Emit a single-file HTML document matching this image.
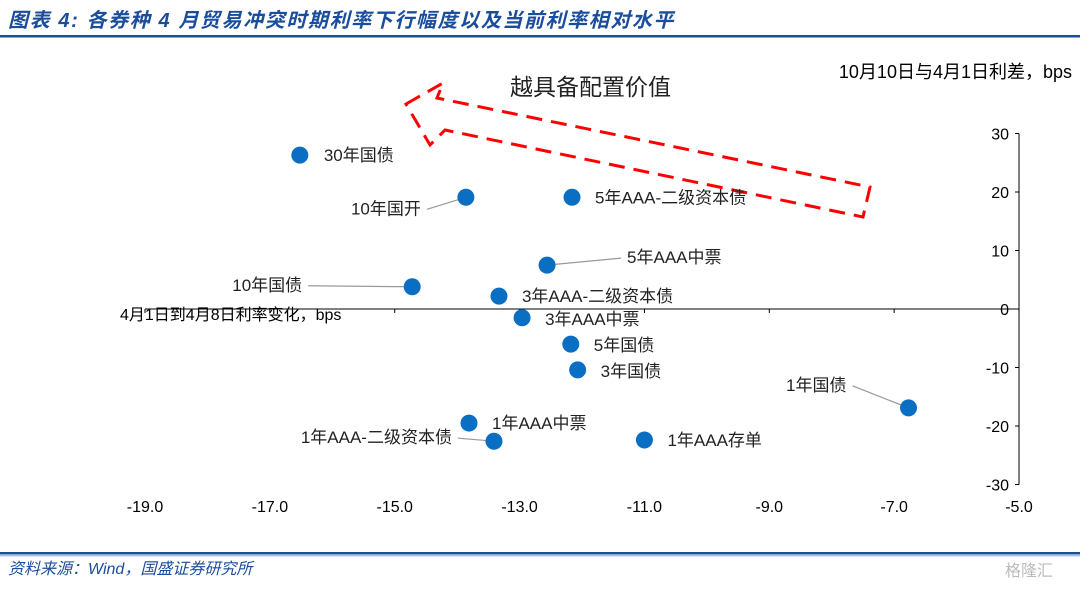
<!DOCTYPE html>
<html><head><meta charset="utf-8">
<style>
body{margin:0;width:1080px;height:584px;background:#fff;overflow:hidden;font-family:"Liberation Sans","Noto Sans CJK SC",sans-serif;}
svg text{font-family:"Liberation Sans","Noto Sans CJK SC",sans-serif;}
</style></head><body>
<svg width="1080" height="584">
<text x="8" y="27" font-size="20" font-style="italic" font-weight="bold" fill="#1a4d9c" letter-spacing="1.6">图表 4:  各券种 4 月贸易冲突时期利率下行幅度以及当前利率相对水平</text>
<rect x="0" y="35" width="1080" height="2.5" fill="#1a4d9c"/>
<rect x="0" y="552" width="1080" height="2.5" fill="#1a4d9c"/>
<rect x="0" y="555" width="1080" height="1.5" fill="#a9c4e8"/>
<text x="8" y="574" font-size="16" font-style="italic" fill="#1a4d9c">资料来源：Wind，国盛证券研究所</text>
<text x="1005" y="576" font-size="16" fill="#bbb">格隆汇</text>
<text x="510" y="95" font-size="23" fill="#222">越具备配置价值</text>
<polygon points="406,104 443,83 437,98 870,187 863,217 445,130 430,145" fill="none" stroke="#f00" stroke-width="3" stroke-dasharray="16,9"/>
<text x="1072" y="78" font-size="18" text-anchor="end" fill="#000">10月10日与4月1日利差，bps</text>
<text x="120" y="320" font-size="16" fill="#000">4月1日到4月8日利率变化，bps</text>
<g id="axes"></g>
<g id="marks"></g>
</svg>
<script>
const names=["30年国债","10年国开","5年AAA-二级资本债","5年AAA中票","10年国债","3年AAA-二级资本债","3年AAA中票","5年国债","3年国债","1年国债","1年AAA中票","1年AAA-二级资本债","1年AAA存单"];
const xVals=[-16.52,-13.86,-12.16,-12.56,-14.72,-13.33,-12.96,-12.18,-12.07,-6.77,-13.81,-13.41,-11.0];
const yVals=[26.3,19.1,19.1,7.5,3.8,2.2,-1.5,-6.0,-10.4,-16.9,-19.5,-22.6,-22.4];
const xTicks=[-19,-17,-15,-13,-11,-9,-7,-5];
const yTicks=[30,20,10,0,-10,-20,-30];
const lab=[[24,6,"start",0],[-45,17,"end",1],[23,6,"start",0],[80,-2,"start",1],[-110,4,"end",1],[23,6,"start",0],[23,7,"start",0],[23,7,"start",0],[23,7,"start",0],[-62,-17,"end",1],[23,6,"start",0],[-42,2,"end",1],[23,6,"start",0]];
const X=v=>145+(v+19)*62.43, Y=v=>309-v*5.85;
const NS="http://www.w3.org/2000/svg";
function mk(t,a,p){const e=document.createElementNS(NS,t);for(const k in a)e.setAttribute(k,a[k]);p.appendChild(e);return e;}
const ax=document.getElementById('axes'), mg=document.getElementById('marks');
const xl=mk('line',{x1:X(-19),x2:X(-5),y1:Y(0),y2:Y(0),stroke:'#000','stroke-width':1},ax);


const yl=mk('line',{x1:X(-5),x2:X(-5),y1:Y(30),y2:Y(-30),stroke:'#000','stroke-width':1},ax);


xTicks.forEach(t=>{const e=mk('text',{x:X(t),y:512,'font-size':16,'text-anchor':'middle',fill:'#000'},ax);e.textContent=t.toFixed(1);


const m=mk('line',{x1:X(t),x2:X(t),y1:Y(0),y2:Y(0)+4,stroke:'#000'},ax);

});
yTicks.forEach(t=>{const e=mk('text',{x:X(-5)-10,y:Y(t)+6,'font-size':16,'text-anchor':'end',fill:'#000'},ax);e.textContent=t;


const m=mk('line',{x1:X(-5)-4,x2:X(-5),y1:Y(t),y2:Y(t),stroke:'#000'},ax);

});
names.forEach((n,i)=>{const cx=X(xVals[i]),cy=Y(yVals[i]);const L=lab[i];
if(L[3]){const ln=mk('line',{x1:cx+L[0]+(L[2]=="end"?6:-6),y1:cy+L[1]-5,x2:cx,y2:cy,stroke:'#999','stroke-width':1.2},mg);

}
const c=mk('circle',{cx:cx,cy:cy,r:8.5,fill:'#0a6fc2'},mg);


const t=mk('text',{x:cx+L[0],y:cy+L[1],'font-size':17,'text-anchor':L[2],fill:'#222'},mg);t.textContent=n;

});
</script>
</body></html>
